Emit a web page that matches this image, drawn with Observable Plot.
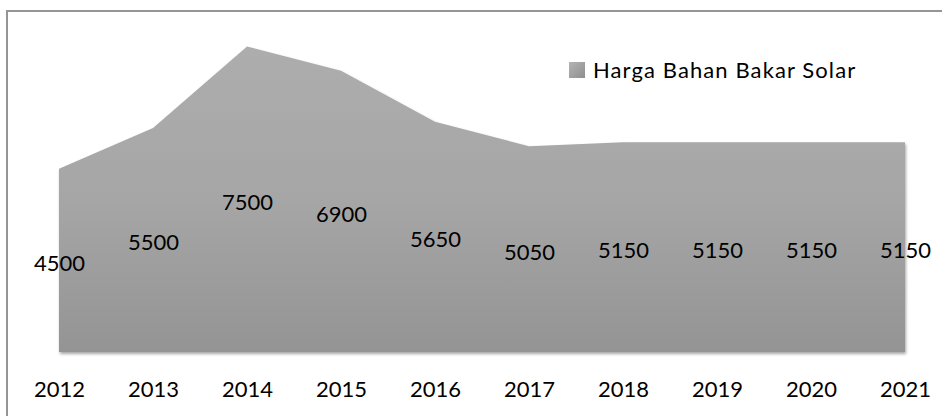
<!DOCTYPE html>
<html><head><meta charset="utf-8">
<script src="https://cdn.jsdelivr.net/npm/d3@7"></script>
<script src="https://cdn.jsdelivr.net/npm/@observablehq/plot@0.6"></script>
<style>
html,body{margin:0;padding:0;background:#fff;}
#wrap{position:relative;width:942px;height:416px;overflow:hidden;font-family:Lato,sans-serif;}
#frame{position:absolute;left:6px;top:10px;width:1000px;height:1000px;border-left:2px solid #959595;border-top:2px solid #959595;}
#chart{position:absolute;left:0;top:0;}
#legend{position:absolute;left:569px;top:59px;display:flex;align-items:center;font-size:22px;line-height:22px;color:#000;}
#legend .sw{display:inline-block;width:16px;height:16px;background:linear-gradient(135deg,#b4b4b4,#8e8e8e);margin-right:8px;}
#legend #legtext{letter-spacing:1.1px;}
</style></head><body>
<div id="wrap"><div id="frame"></div><div id="chart"></div><div id="legend"><span class="sw"></span><span id="legtext"></span></div></div>
<script>
const years = ["2012","2013","2014","2015","2016","2017","2018","2019","2020","2021"];
const prices = [4500,5500,7500,6900,5650,5050,5150,5150,5150,5150];
const seriesName = "Harga Bahan Bakar Solar";

const data = years.map((year, i) => ({year, price: prices[i]}));
document.getElementById("legtext").textContent = seriesName;

const defs = () => {
  const d = d3.create("svg:defs");
  const g = d.append("linearGradient").attr("id","areaGrad").attr("x1",0).attr("y1",0).attr("x2",0).attr("y2",1);
  g.append("stop").attr("offset","0%").attr("stop-color","#adadad");
  g.append("stop").attr("offset","50%").attr("stop-color","#a6a6a6");
  g.append("stop").attr("offset","100%").attr("stop-color","#949494");
  const f = d.append("filter").attr("id","shadow").attr("x","-5%").attr("y","-5%").attr("width","110%").attr("height","115%");
  f.append("feDropShadow").attr("dx",1).attr("dy",2).attr("stdDeviation",1.5).attr("flood-color","#000").attr("flood-opacity",0.35);
  return d.node();
};

const chart = Plot.plot({
  width: 942,
  height: 416,
  marginLeft: 56,
  marginRight: 35,
  marginTop: 26,
  marginBottom: 64,
  style: {fontFamily: "Lato, sans-serif", fontSize: "22px", background: "transparent", color: "#000"},
  x: {type: "point", domain: years, padding: 0, axis: null},
  y: {domain: [0, 8000], axis: null},
  marks: [
    defs,
    Plot.areaY(data, {x: "year", y: "price", fill: "url(#areaGrad)", className: "solar-area"}),
    Plot.axisX({tickSize: 0, tickPadding: 29, fontSize: 22, fill: "#000", label: null}),
    Plot.text(data, {x: "year", y: d => d.price / 2, text: d => String(d.price), fontSize: 22, fill: "#000", dy: 3})
  ]
});
d3.select(chart).selectAll(".solar-area path").attr("filter", "url(#shadow)");
document.getElementById("chart").appendChild(chart);
</script>
</body></html>
